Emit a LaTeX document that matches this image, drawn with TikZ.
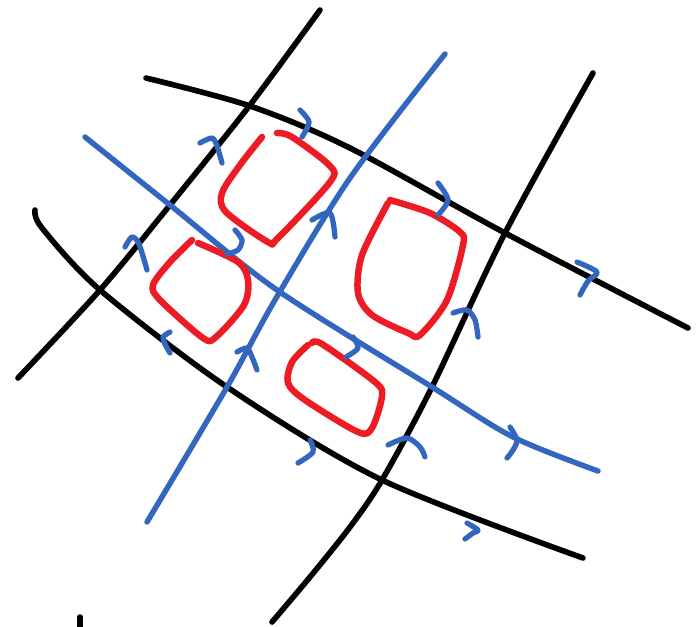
\documentclass[tikz,border=0pt]{standalone}
\usepackage{tikz}
\definecolor{penblue}{RGB}{51,102,191}
\definecolor{penred}{RGB}{237,28,36}
\tikzset{
  blk/.style={black,line width=3.2pt,line cap=round,line join=round},
  blu/.style={penblue,line width=3.1pt,line cap=round,line join=round},
  rd/.style={penred,line width=3.7pt,line cap=round,line join=round},
  hook/.style={penblue,line width=3pt,line cap=round,line join=round}
}
\begin{document}
\begin{tikzpicture}[x=0.02cm,y=-0.02cm]
    \useasboundingbox (0,0) rectangle (699,626);
    % black grid lines
    \draw[blk] plot[smooth] coordinates {(18,378) (100,290) (170,205) (250,105) (320,10)};
    \draw[blk] plot[smooth] coordinates {(593,73) (505,233) (432,387) (382,480) (350,527) (310,577) (272,622)};
    \draw[blk] plot[smooth] coordinates {(146,78) (250,106) (350,148) (505,233) (688,328)};
    \draw[blk] plot[smooth] coordinates {(35,210) (42,228) (100,290) (227,387) (382,480) (583,558)};
    \draw[blk] (80,617) -- (80,630);
    % blue grid lines
    \draw[blu] plot[smooth] coordinates {(85,137) (170,205) (277,290) (432,387) (513,437) (598,471)};
    \draw[blu] plot[smooth] coordinates {(147,522) (227,387) (275,300) (350,178) (445,54)};
    % red loops
    \draw[rd] plot[smooth,tension=0.5] coordinates {(262,137) (240,165) (222,193) (226,212) (268,242) (278,238) (330,182) (330,166) (292,137) (277,133)};
    \draw[rd] plot[smooth,tension=0.5] coordinates {(192,240) (170,262) (153,285) (160,300) (203,338) (216,337) (244,305) (248,280) (238,262) (198,243)};
    \draw[rd] plot[smooth,tension=0.5] coordinates {(390,200) (430,213) (460,232) (463,245) (447,300) (420,335) (408,333) (372,315) (358,293) (362,255) (388,203)};
    \draw[rd] plot[smooth,tension=0.5] coordinates {(308,345) (292,362) (288,383) (305,400) (358,432) (372,428) (382,396) (375,382) (322,344) (312,343)};
    % blue hooks
    \draw[hook] plot[smooth] coordinates {(200,143) (212,138) (217,146) (222,163)};
    \draw[hook] plot[smooth] coordinates {(300,110) (309,122) (302,137)};
    \draw[hook] plot[smooth] coordinates {(125,247) (132,237) (139,244) (147,270)};
    \draw[hook] plot[smooth] coordinates {(235,230) (242,240) (238,250) (227,254)};
    \draw[hook] plot[smooth] coordinates {(312,220) (330,213) (335,237)};
    \draw[hook] plot[smooth] coordinates {(438,183) (448,200) (438,215)};
    \draw[hook] plot[smooth] coordinates {(577,262) (597,272) (588,281) (580,295)};
    \draw[hook] plot[smooth] coordinates {(170,332) (163,337) (165,344) (170,353)};
    \draw[hook] plot[smooth] coordinates {(237,352) (247,348) (252,357) (257,370)};
    \draw[hook] plot[smooth] coordinates {(310,440) (313,452) (298,463)};
    \draw[hook] plot[smooth] coordinates {(353,337) (358,348) (346,357)};
    \draw[hook] plot[smooth] coordinates {(453,313) (467,310) (475,320) (478,337)};
    \draw[hook] plot[smooth] coordinates {(388,445) (407,438) (420,447) (425,457)};
    \draw[hook] plot[smooth] coordinates {(510,427) (517,440) (513,450) (507,458)};
    \draw[hook] plot[smooth] coordinates {(467,523) (478,530) (473,533) (465,539)};
\end{tikzpicture}
\end{document}
